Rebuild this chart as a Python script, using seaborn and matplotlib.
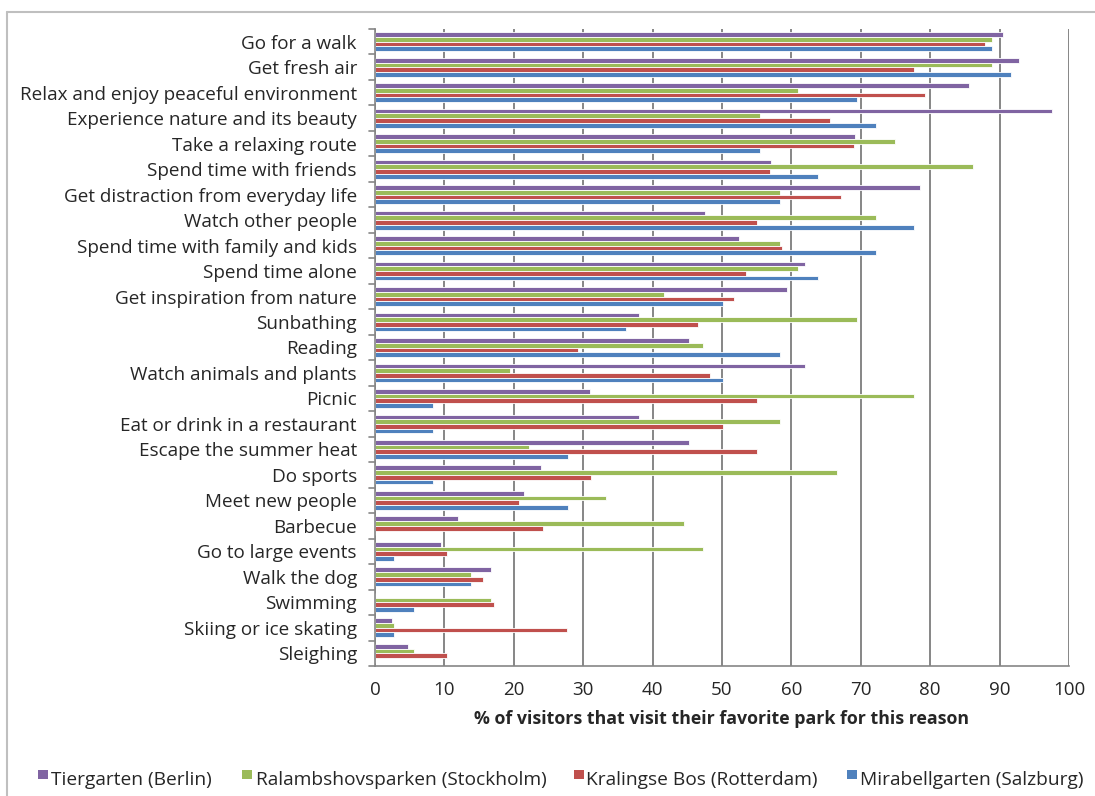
import matplotlib
matplotlib.use("Agg")
import matplotlib.pyplot as plt
import seaborn as sns
import pandas as pd
from matplotlib.lines import Line2D
from matplotlib.patches import Rectangle

categories = [
    "Go for a walk", "Get fresh air", "Relax and enjoy peaceful environment",
    "Experience nature and its beauty", "Take a relaxing route", "Spend time with friends",
    "Get distraction from everyday life", "Watch other people", "Spend time with family and kids",
    "Spend time alone", "Get inspiration from nature", "Sunbathing", "Reading",
    "Watch animals and plants", "Picnic", "Eat or drink in a restaurant",
    "Escape the summer heat", "Do sports", "Meet new people", "Barbecue",
    "Go to large events", "Walk the dog", "Swimming", "Skiing or ice skating", "Sleighing",
]

series_names = [
    "Tiergarten (Berlin)",
    "Ralambshovsparken (Stockholm)",
    "Kralingse Bos (Rotterdam)",
    "Mirabellgarten (Salzburg)",
]

tiergarten = [90.5, 92.8, 85.6, 97.6, 69.1, 57.1, 78.6, 47.6, 52.4, 61.9, 59.4, 38.1, 45.3,
              61.9, 31.0, 38.1, 45.3, 23.9, 21.5, 11.9, 9.5, 16.7, 0.0, 2.4, 4.8]
ralambshov = [88.9, 88.9, 61.0, 55.5, 74.9, 86.1, 58.3, 72.2, 58.3, 61.0, 41.7, 69.4, 47.2,
              19.5, 77.7, 58.3, 22.2, 66.6, 33.3, 44.5, 47.2, 13.9, 16.7, 2.7, 5.6]
kralingse = [87.9, 77.6, 79.2, 65.5, 69.0, 56.9, 67.2, 55.1, 58.6, 53.4, 51.8, 46.5, 29.3,
             48.2, 55.1, 50.1, 55.1, 31.1, 20.7, 24.2, 10.4, 15.5, 17.2, 27.6, 10.4]
mirabell = [88.9, 91.6, 69.4, 72.2, 55.5, 63.8, 58.3, 77.7, 72.2, 63.8, 50.1, 36.1, 58.3,
            50.1, 8.3, 8.3, 27.8, 8.3, 27.8, 0.0, 2.7, 13.9, 5.6, 2.7, 0.0]

x_ticks = [0, 10, 20, 30, 40, 50, 60, 70, 80, 90, 100]
x_label = "% of visitors that visit their favorite park for this reason"

colors = ["#8064A2", "#9BBB59", "#C0504D", "#4F81BD"]

rows = []
for name, vals in zip(series_names, [tiergarten, ralambshov, kralingse, mirabell]):
    for c, v in zip(categories, vals):
        rows.append({"reason": c, "park": name, "value": v})
df = pd.DataFrame(rows)

sns.set_style("white")
plt.rcParams["font.family"] = ["Open Sans", "DejaVu Sans"]

W, H = 1095, 796
fig = plt.figure(figsize=(W / 100, H / 100), dpi=100)
ax = fig.add_axes([375 / W, 1 - 666 / H, (1069 - 375) / W, (666 - 29) / H])

sns.barplot(data=df, y="reason", x="value", hue="park", order=categories,
            hue_order=series_names, palette=colors, orient="h", width=0.74,
            errorbar=None, ax=ax, legend=False, linewidth=0.6, edgecolor="white",
            saturation=1)

ax.set_xlim(0, 100)
ax.set_ylim(len(categories) - 0.5, -0.5)
ax.set_xticks(x_ticks)
ax.set_xticklabels([str(t) for t in x_ticks], fontsize=13.5)
ax.set_ylabel("")
ax.set_xlabel(x_label, fontsize=12.8, fontweight="bold", labelpad=8)
ax.tick_params(axis="y", labelsize=13.6, length=0, pad=13)
ax.tick_params(axis="x", length=4, width=1.2, color="#868686", direction="out", pad=7)
ax.xaxis.grid(True, color="#868686", linewidth=1.4)
ax.set_axisbelow(True)
for s in ["top", "right"]:
    ax.spines[s].set_visible(False)
for s in ["left", "bottom"]:
    ax.spines[s].set_color("#868686")
    ax.spines[s].set_linewidth(1.2)

# category boundary ticks on the y axis
for i in range(len(categories) + 1):
    yb = i - 0.5
    ax.plot([-0.9, 0], [yb, yb], color="#868686", linewidth=1.2, clip_on=False,
            zorder=3)

# outer chart border
fig.add_artist(Line2D([7 / W, 1.0], [1 - 12 / H, 1 - 12 / H],
                      color="#BFBFBF", linewidth=1.5, transform=fig.transFigure))
fig.add_artist(Line2D([7 / W, 7 / W], [0.0, 1 - 12 / H],
                      color="#BFBFBF", linewidth=1.5, transform=fig.transFigure))

# legend (Excel-style, entries at fixed positions)
legend_sq_x = [38, 242, 574, 847]
legend_tx_x = [51, 256, 586, 860]
ly = 780
for name, col, sx, tx in zip(series_names, colors, legend_sq_x, legend_tx_x):
    fig.add_artist(Rectangle((sx / W, 1 - (ly - 1) / H), 10 / W, 9 / H,
                             facecolor=col, edgecolor="none", transform=fig.transFigure))
    fig.text(tx / W, 1 - ly / H, name, fontsize=13.8, va="center", ha="left")

fig.savefig("out.png", dpi=100)
